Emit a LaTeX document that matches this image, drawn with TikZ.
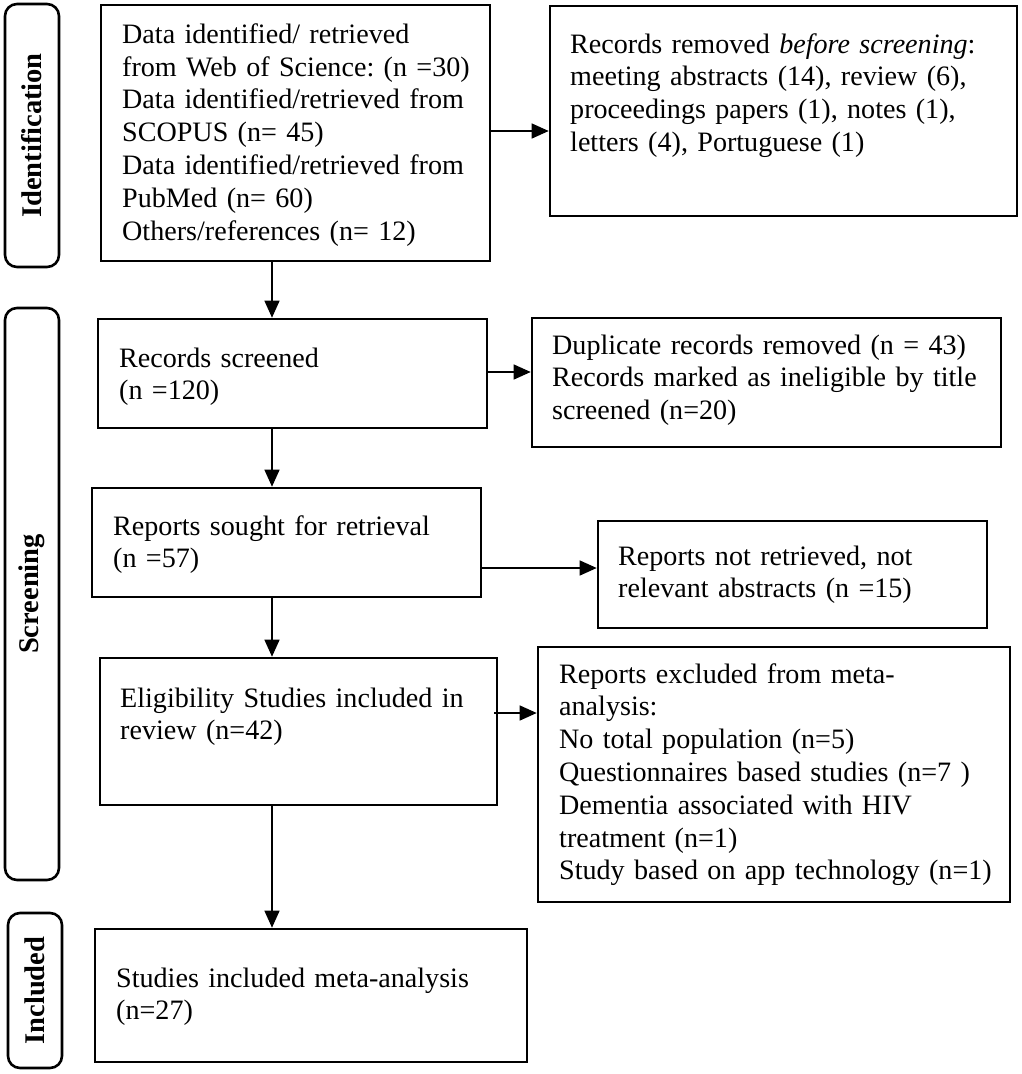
\documentclass[tikz,border=0pt]{standalone}
\usepackage{fontspec}
\setmainfont{Liberation Serif}
\usetikzlibrary{arrows.meta}
\begin{document}
\frenchspacing
\begin{tikzpicture}[x=1pt,y=-1pt,
  box/.style={draw=black,line width=2.6pt,rectangle,inner sep=0pt},
  phase/.style={draw=black,line width=2.6pt,rectangle,rounded corners=12pt,inner sep=0pt,rotate=90,
    font=\fontsize{28.5}{33}\selectfont\bfseries,minimum height=54pt},
  txt/.style={inner sep=0pt,anchor=base west,text width=460pt,align=left,
    font=\fontsize{28.1}{32.8}\selectfont\frenchspacing},
  arr/.style={line width=1.3pt,-{Triangle[length=17pt 0 0,width=15pt 0 0]}}]
\useasboundingbox (0,0) rectangle (1021,1074);
% phase labels
\node[phase,minimum width=263pt] (pid) at (32,135.5) {Identification};
\node[phase,minimum width=572pt] (psc) at (32,594) {Screening};
\node[phase,minimum width=155pt] (pin) at (35,990.5) {Included};
% boxes
\node[box,minimum width=389pt,minimum height=256pt] (b1) at (295.5,133) {};
\node[box,minimum width=467pt,minimum height=210pt] (b2) at (783.5,111) {};
\node[box,minimum width=389pt,minimum height=109pt] (b3) at (292.5,373.5) {};
\node[box,minimum width=469pt,minimum height=129pt] (b4) at (766.5,382.5) {};
\node[box,minimum width=389pt,minimum height=109pt] (b5) at (286.5,542.5) {};
\node[box,minimum width=389pt,minimum height=107pt] (b6) at (792.5,574.5) {};
\node[box,minimum width=397pt,minimum height=147pt] (b7) at (298.5,731.5) {};
\node[box,minimum width=472pt,minimum height=255pt] (b8) at (774,774.5) {};
\node[box,minimum width=432pt,minimum height=133pt] (b9) at (311,995.5) {};
% texts
\node[txt] (t1) at (122,43.3) {Data identified/ retrieved\\from Web of Science: (n =30)\\Data identified/retrieved from\\SCOPUS (n= 45)\\Data identified/retrieved from\\PubMed (n= 60)\\Others/references (n= 12)};
\node[txt] (t2) at (570,53) {Records removed \textit{before screening}:\\meeting abstracts (14), review (6),\\proceedings papers (1), notes (1),\\letters (4), Portuguese (1)};
\node[txt] (t3) at (119,367) {Records screened\\(n =120)};
\node[txt] (t4) at (552,354) {Duplicate records removed (n = 43)\\Records marked as ineligible by title\\screened (n=20)};
\node[txt] (t5) at (113,535) {Reports sought for retrieval\\(n =57)};
\node[txt] (t6) at (618,565) {Reports not retrieved, not\\relevant abstracts (n =15)};
\node[txt] (t7) at (120,707) {Eligibility Studies included in\\review (n=42)};
\node[txt] (t8) at (559,683) {Reports excluded from meta-\\analysis:\\No total population (n=5)\\Questionnaires based studies (n=7 )\\Dementia associated with HIV\\treatment (n=1)\\Study based on app technology (n=1)};
\node[txt] (t9) at (116,987) {Studies included meta-analysis\\(n=27)};
% connector guides
\coordinate (spine) at (272,0);
\coordinate (y12) at (0,131);
\coordinate (y34) at (0,372);
\coordinate (y56) at (0,568);
\coordinate (y78) at (0,713);
% connectors
\draw[arr] (b1.south -| spine) -- (b3.north -| spine);
\draw[arr] (b3.south -| spine) -- (b5.north -| spine);
\draw[arr] (b5.south -| spine) -- (b7.north -| spine);
\draw[arr] (b7.south -| spine) -- (b9.north -| spine);
\draw[arr] (b1.east |- y12) -- (b2.west |- y12);
\draw[arr] (b3.east |- y34) -- (b4.west |- y34);
\draw[arr] (b5.east |- y56) -- (b6.west |- y56);
\draw[arr] ([xshift=-4pt]b7.east |- y78) -- (b8.west |- y78);
\end{tikzpicture}
\end{document}
